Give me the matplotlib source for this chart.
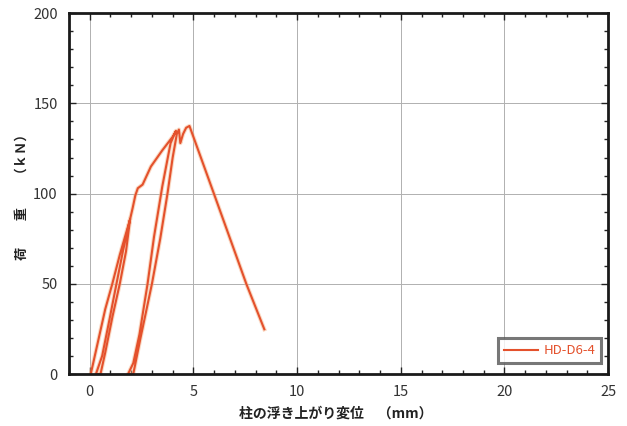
import matplotlib
matplotlib.use("Agg")
import matplotlib.pyplot as plt
from matplotlib.ticker import MultipleLocator

plt.rcParams['font.family'] = ['Noto Sans CJK JP', 'DejaVu Sans']

# --- Data (displacement mm, load kN) ---
disp = [0.05, 0.4, 0.75, 1.09, 1.45, 1.8, 1.95,
        1.6, 1.29, 0.95, 0.6, 0.3,
        0.52, 0.75, 1.1, 1.45, 1.75, 1.95, 2.07, 2.2, 2.32, 2.55, 2.95, 3.5, 4.0, 4.16,
        3.9, 3.5, 3.1, 2.79, 2.4, 2.1, 1.85,
        2.1, 2.45, 3.0, 3.4, 3.75, 4.0, 4.2, 4.3, 4.37, 4.5, 4.65, 4.81,
        6.1, 7.55, 8.42]
load = [0, 18, 36, 50, 66, 80, 86,
        68, 50, 30, 10, 0,
        0, 12, 32, 50, 68, 86, 92, 99, 103, 105, 115, 124, 131.5, 134.8,
        128, 104, 76, 50, 22, 6, 0,
        0, 20, 50, 75, 100, 120, 133, 135.5, 128, 133, 136.5, 137.5,
        96.4, 50, 24.8]
series_name = "HD-D6-4"
line_color = "#e4512c"

fig = plt.figure(figsize=(6.27, 4.26), dpi=100)
ax = fig.add_axes([0.110, 0.122, 0.860, 0.847])

ax.plot(disp, load, color="#f5b48a", lw=3.0, alpha=0.5, solid_joinstyle="round")
ax.plot(disp, load, color=line_color, lw=1.5, label=series_name, solid_joinstyle="round")

ax.set_xlim(-1, 25)
ax.set_ylim(0, 200)
ax.xaxis.set_major_locator(MultipleLocator(5))
ax.xaxis.set_minor_locator(MultipleLocator(1))
ax.yaxis.set_major_locator(MultipleLocator(50))
ax.yaxis.set_minor_locator(MultipleLocator(10))
ax.tick_params(which="both", direction="in", top=True, right=True, width=1.0, color="#222222")
ax.tick_params(which="major", length=5, labelsize=10.5, labelcolor="#333333", pad=8)
ax.tick_params(which="minor", length=3)
ax.grid(which="major", color="#b0b0b0", lw=0.7)
for s in ax.spines.values():
    s.set_linewidth(2.0)
    s.set_color("#1a1a1a")

ax.set_xlabel("柱の浮き上がり変位　（mm）", fontsize=10, color="#222222", fontweight="bold")
ax.xaxis.set_label_coords(0.495, -0.09)
ax.set_ylabel("荷　　重　　（ｋＮ）", fontsize=9.5, color="#222222", fontweight="bold")
ax.yaxis.set_label_coords(-0.075, 0.50)

leg = ax.legend(loc="lower right", bbox_to_anchor=(0.987, 0.03), fontsize=9.5,
                frameon=True, fancybox=False, handlelength=2.6, handletextpad=0.4,
                borderpad=0.45, borderaxespad=0)
leg.get_frame().set_edgecolor("#555555")
leg.get_frame().set_linewidth(2.2)
for t in leg.get_texts():
    t.set_color(line_color)

plt.savefig("out.png", dpi=100)
